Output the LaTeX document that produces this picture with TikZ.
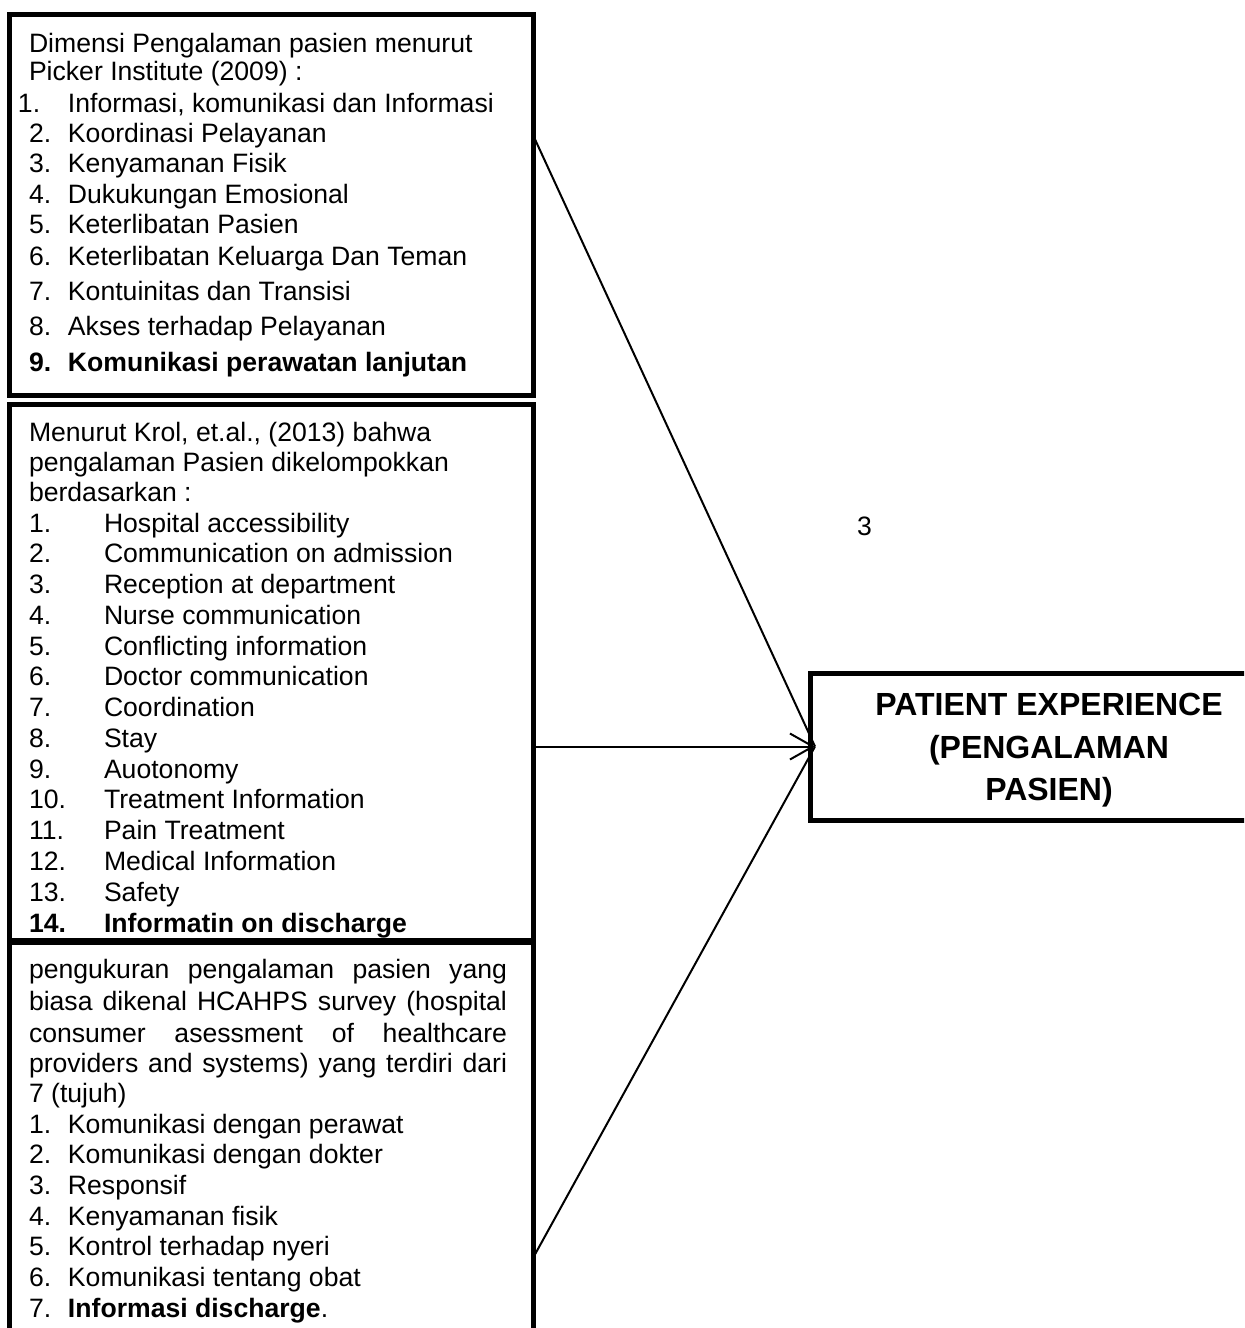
\documentclass[tikz,border=0pt]{standalone}
\usepackage{fontspec}
\setmainfont{Liberation Sans}
\usetikzlibrary{arrows.meta}

\begin{document}
\begin{tikzpicture}[x=0.5pt,y=-0.5pt,
  frame/.style={draw, rectangle, line width=2.5pt, inner sep=0pt, outer sep=0pt},
  txt/.style={anchor=base west, inner sep=0pt, outer sep=0pt,
              font=\fontsize{13.3pt}{15pt}\selectfont},
  headline/.style={anchor=base, inner sep=0pt, outer sep=0pt,
              font=\fontsize{16pt}{18pt}\selectfont\bfseries},
  conn/.style={line width=1pt},
  tiphead/.style={-{Straight Barb[length=11.5pt,width=13pt]}}]

\useasboundingbox (0,0) rectangle (1244,1328);
\begin{scope}
\clip (0,0) rectangle (1244,1328);

% frames
\node[frame, minimum width=262pt, minimum height=190.5pt] (box1) at (271,204.5) {};
\node[frame, minimum width=262pt, minimum height=268pt]   (box2) at (271,672) {};
\node[frame, minimum width=262pt, minimum height=219pt]   (box3) at (271,1161) {};
\node[frame, minimum width=245pt, minimum height=73.5pt]  (pe)   at (1055,746.5) {};

% first list: Picker Institute
\node[txt] (ah1) at (29,52) {Dimensi Pengalaman pasien menurut};
\node[txt] (ah2) at (29,80) {Picker Institute (2009) :};
\node[txt] (an1) at (18,112) {1.};
\node[txt] (at1) at (68,112) {Informasi, komunikasi dan Informasi};
\foreach \y/\t [count=\k from 2] in {142/Koordinasi Pelayanan, 172/Kenyamanan Fisik,
    203/Dukukungan Emosional, 233/Keterlibatan Pasien, 265/Keterlibatan Keluarga Dan Teman,
    300/Kontuinitas dan Transisi, 335/Akses terhadap Pelayanan}{
  \node[txt] (an\k) at (29,\y) {\k.};
  \node[txt] (at\k) at (68,\y) {\t};
}
\node[txt] (an9) at (29,371) {\bfseries 9.};
\node[txt] (at9) at (68,371) {\bfseries Komunikasi perawatan lanjutan};

% second list: Krol et al.
\node[txt] (bh1) at (29,441) {Menurut Krol, et.al., (2013) bahwa};
\node[txt] (bh2) at (29,471) {pengalaman Pasien dikelompokkan};
\node[txt] (bh3) at (29,501) {berdasarkan :};
\foreach \t [count=\k] in {Hospital accessibility, Communication on admission,
    Reception at department, Nurse communication, Conflicting information,
    Doctor communication, Coordination, Stay, Auotonomy, Treatment Information,
    Pain Treatment, Medical Information, Safety}{
  \pgfmathsetmacro\yy{532+30.77*(\k-1)}
  \node[txt] (bn\k) at (29,\yy) {\k.};
  \node[txt] (bt\k) at (104,\yy) {\t};
}
\node[txt] (bn14) at (29,932) {\bfseries 14.};
\node[txt] (bt14) at (104,932) {\bfseries Informatin on discharge};

% third list: HCAHPS
\node[txt] (ch1) at (29,978)  {\makebox[239pt][s]{pengukuran pengalaman pasien yang}};
\node[txt] (ch2) at (29,1010) {\makebox[239pt][s]{biasa dikenal HCAHPS survey (hospital}};
\node[txt] (ch3) at (29,1042) {\makebox[239pt][s]{consumer asessment of healthcare}};
\node[txt] (ch4) at (29,1072) {\makebox[239pt][s]{providers and systems) yang terdiri dari}};
\node[txt] (ch5) at (29,1102) {7 (tujuh)};
\foreach \t [count=\k] in {Komunikasi dengan perawat, Komunikasi dengan dokter,
    Responsif, Kenyamanan fisik, Kontrol terhadap nyeri, Komunikasi tentang obat}{
  \pgfmathsetmacro\yy{1133+30.67*(\k-1)}
  \node[txt] (cn\k) at (29,\yy) {\k.};
  \node[txt] (ct\k) at (68,\yy) {\t};
}
\node[txt] (cn7) at (29,1317) {7.};
\node[txt] (ct7) at (68,1317) {\textbf{Informasi discharge}.};

% target box text
\node[headline] (pe1) at (1049,715) {PATIENT EXPERIENCE};
\node[headline] (pe2) at (1049,758) {(PENGALAMAN};
\node[headline] (pe3) at (1049,800) {PASIEN)};

% page number
\node[txt] (pgno) at (857,535) {3};

% connectors
\coordinate (tip) at ([xshift=2.5pt]pe.west);
\coordinate (s1) at (533,135);
\coordinate (s3) at (533,1258);
\draw[conn] (s1) -- (tip);
\draw[conn,tiphead] (box2.east |- tip) -- (tip);
\draw[conn] (s3) -- (tip);
\end{scope}
\end{tikzpicture}
\end{document}
